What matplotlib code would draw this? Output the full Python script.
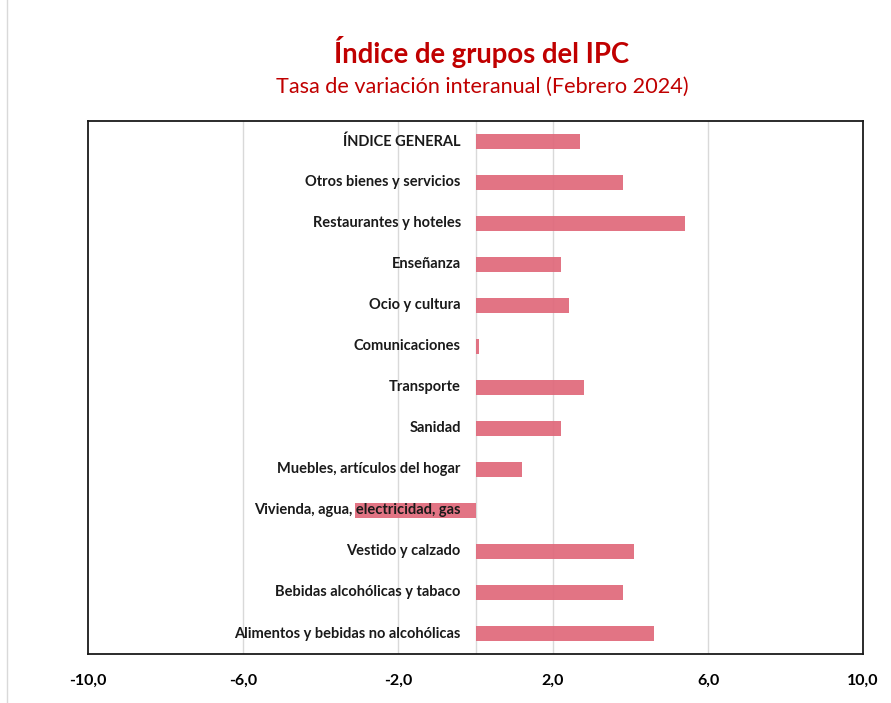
import matplotlib
matplotlib.use("Agg")
import matplotlib.pyplot as plt
from matplotlib.patches import Rectangle

# groups from bottom to top, as in the chart
grupos = ["Alimentos y bebidas no alcohólicas",
          "Bebidas alcohólicas y tabaco",
          "Vestido y calzado",
          "Vivienda, agua, electricidad, gas",
          "Muebles, artículos del hogar",
          "Sanidad",
          "Transporte",
          "Comunicaciones",
          "Ocio y cultura",
          "Enseñanza",
          "Restaurantes y hoteles",
          "Otros bienes y servicios",
          "ÍNDICE GENERAL"]
tasas = [4.6, 3.8, 4.1, -3.1, 1.2, 2.2, 2.8, 0.1, 2.4, 2.2, 5.4, 3.8, 2.7]
ticks = [-10, -6, -2, 2, 6, 10]
tick_labels = ["-10,0", "-6,0", "-2,0", "2,0", "6,0", "10,0"]

plt.rcParams['font.family'] = ['Lato', 'DejaVu Sans']

fig = plt.figure(figsize=(8.91, 7.03), dpi=100)
ax = fig.add_axes([0.0988, 0.0697, 0.8698, 0.7582])

ypos = list(range(len(grupos)))
ax.barh(ypos, tasas, height=0.35, color='#E0687A', alpha=0.92, zorder=2)

# category names sit inside the plot, right of them the bars start
for y, g in zip(ypos, grupos):
    ax.text(-0.38, y, g, ha='right', va='center', fontsize=10.5,
            fontweight='bold', color='#1a1a1a', zorder=3)

ax.set_xlim(-10, 10)
ax.set_ylim(-0.5, len(grupos) - 0.5)
ax.set_xticks(ticks)
ax.set_xticklabels(tick_labels, fontsize=11.5, fontweight='bold')
ax.set_yticks([])
ax.tick_params(axis='x', length=0, pad=14)
for xv in [-6, -2, 0, 2, 6]:
    ax.axvline(xv, color='#D9D9D9', lw=1, zorder=1)
for s in ax.spines.values():
    s.set_linewidth(1.3)
    s.set_color('#1a1a1a')

fig.text(0.541, 0.926, "Índice de grupos del IPC", ha='center', va='center',
         fontsize=19.8, fontweight='bold', color='#C00000')
fig.text(0.541, 0.876, "Tasa de variación interanual (Febrero 2024)", ha='center',
         va='center', fontsize=15.6, color='#C00000')

# light outer frame of the chart area
fig.patches.append(Rectangle((0.008, -0.1), 1.2, 1.3, transform=fig.transFigure,
                             fill=False, edgecolor='#D9D9D9', lw=1))

fig.savefig("out.png", dpi=100)
